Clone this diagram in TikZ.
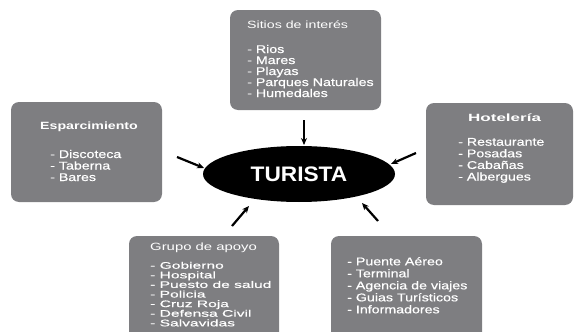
\documentclass[tikz,border=0pt]{standalone}
\usepackage{fontspec}
\setmainfont{Liberation Sans}[FakeStretch=1.35]
\newfontfamily\itemfont{Liberation Sans}[FakeStretch=1.27,FakeBold=0.6]
\newfontfamily\gitemfont{Liberation Sans}[FakeStretch=1.64,FakeBold=0.5]
\newfontfamily\turfont{Liberation Sans}[FakeStretch=1.08]
\usetikzlibrary{shapes.geometric,arrows.meta}
\definecolor{boxgray}{RGB}{126,126,129}
\tikzset{
  box/.style={draw=none,fill=boxgray,rounded corners=8pt},
  item/.style={inner sep=0pt,anchor=base west,text=white,font=\fontsize{11.2}{11}\itemfont},
  gitem/.style={item,font=\fontsize{9.5}{9.6}\gitemfont},
  ttl/.style={item,font=\fontsize{10.5}{11}\selectfont},
  bttl/.style={item,font=\fontsize{10.5}{11}\selectfont\bfseries},
  arr/.style={line width=2.2pt,-{Stealth[length=7pt,width=6pt]}}
}
\begin{document}
\begin{tikzpicture}[x=1pt,y=-1pt]
\useasboundingbox (0,0) rectangle (574,332);
\clip (0,0) rectangle (574,332);
% boxes
\draw[box] (230,10) rectangle (381,110);
\draw[box] (11,102) rectangle (162,202);
\draw[box] (426,103) rectangle (573,205);
\draw[box] (129,236) rectangle (279,350);
\draw[box] (331,236) rectangle (482,350);
% Sitios
\node[ttl] (sitT) at (247,28.5) {Sitios de interés};
\foreach \t [count=\i] in {Rios,Mares,Playas,Parques Naturales,Humedales}
  \node[item] (sit\i) at (247,{53+11*(\i-1)}) {- \t};
% Esparcimiento
\node[bttl] (espT) at (40,129.7) {Esparcimiento};
\foreach \t [count=\i] in {Discoteca,Taberna,Bares}
  \node[item] (esp\i) at (50,{158+11.5*(\i-1)}) {- \t};
% Hoteleria
\node[bttl] (hotT) at (468,121.7) {\scalebox{1.2}[1]{Hotelería}};
\foreach \t [count=\i] in {Restaurante,Posadas,Cabañas,Albergues}
  \node[item] (hot\i) at (458,{145.7+11.6*(\i-1)}) {- \t};
% Grupo de apoyo
\node[ttl] (gruT) at (150,250) {\scalebox{1.05}[1]{Grupo de apoyo}};
\foreach \t [count=\i] in {Gobierno,Hospital,Puesto de salud,Policia,Cruz Roja,Defensa Civil,Salvavidas}
  \node[gitem] (gru\i) at (150,{268.7+9.6*(\i-1)}) {- \t};
% Transporte
\foreach \t [count=\i] in {Puente Aéreo,Terminal,Agencia de viajes,Guias Turísticos,Informadores}
  \node[item] (tra\i) at (347,{265.3+12*(\i-1)}) {- \t};
% center
\node[ellipse,fill=black,minimum width=192pt,minimum height=56pt,inner sep=0pt,
      text=white,font=\fontsize{21}{21}\turfont\bfseries] (tur) at (299,174) {TURISTA};
% arrows
\coordinate (a1) at (304,120); \coordinate (b1) at (304,145);
\coordinate (a2) at (177,157); \coordinate (b2) at (204,168);
\coordinate (a3) at (416,153); \coordinate (b3) at (391,164);
\coordinate (a4) at (232,226); \coordinate (b4) at (249,206);
\coordinate (a5) at (378,221); \coordinate (b5) at (362,203);
\draw[arr] (a1) -- (b1);
\draw[arr] (a2) -- (b2);
\draw[arr] (a3) -- (b3);
\draw[arr] (a4) -- (b4);
\draw[arr] (a5) -- (b5);
\end{tikzpicture}
\end{document}
